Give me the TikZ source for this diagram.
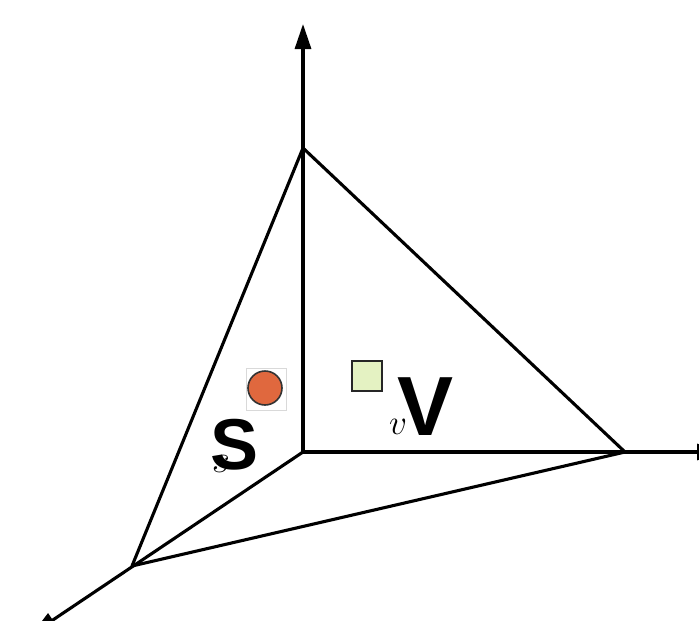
\documentclass[tikz,border=0pt]{standalone}
\usepackage{graphicx}
\usepackage{fontspec}
\newfontfamily\lsans{Liberation Sans}
\usetikzlibrary{arrows.meta}
\definecolor{dotorange}{RGB}{224,104,62}
\definecolor{sqgreen}{RGB}{228,242,194}
\tikzset{
  edge/.style={line width=3.1pt, line cap=round, line join=round},
  axis/.style={line width=3.1pt, -{Triangle[length=25pt,width=16pt]}},
  bigletter/.style={font=\lsans\bfseries, inner sep=0pt, anchor=base},
  smallmath/.style={inner sep=0pt, anchor=base, font=\fontsize{20}{20}\selectfont},
}
\begin{document}
\begin{tikzpicture}[x=1pt,y=-1pt]
\useasboundingbox (0,0) rectangle (699,621);
\clip (0,0) rectangle (699,621);
\coordinate (O) at (303,452);
\coordinate (T) at (303,148);
\coordinate (R) at (625,452);
\coordinate (L) at (132,566);
\coordinate (Ytip) at (303,24);
\coordinate (Xtip) at (722,452);
\coordinate (Ztip) at (32,634);
% axes
\draw[axis] (O) -- (Ytip);
\draw[axis] (O) -- (Xtip);
\draw[axis] (O) -- (Ztip);
% triangle
\draw[edge] (T) -- (R) -- (L) -- cycle;
% circle with frame
\node[draw=black!15, line width=0.8pt, minimum width=40pt, minimum height=42pt, inner sep=0pt] (frame) at (266,389) {};
\node[circle, draw=black!80, line width=1.6pt, fill=dotorange, minimum size=34pt, inner sep=0pt] (dot) at (265,388) {};
% green square
\node[draw=black!85, line width=2pt, fill=sqgreen, minimum size=30pt, inner sep=0pt] (sq) at (367,376) {};
% letters
\node[smallmath] (smalls) at (221,472) {\scalebox{1.9}{$s$}};
\node[bigletter, font=\fontsize{72}{72}\selectfont\lsans\bfseries] (S) at (235,469) {S};
\node[smallmath] (smallv) at (398,434) {\scalebox{1.7}{$v$}};
\node[bigletter, font=\fontsize{84}{84}\selectfont\lsans\bfseries] (V) at (426,435) {V};
\end{tikzpicture}
\end{document}
